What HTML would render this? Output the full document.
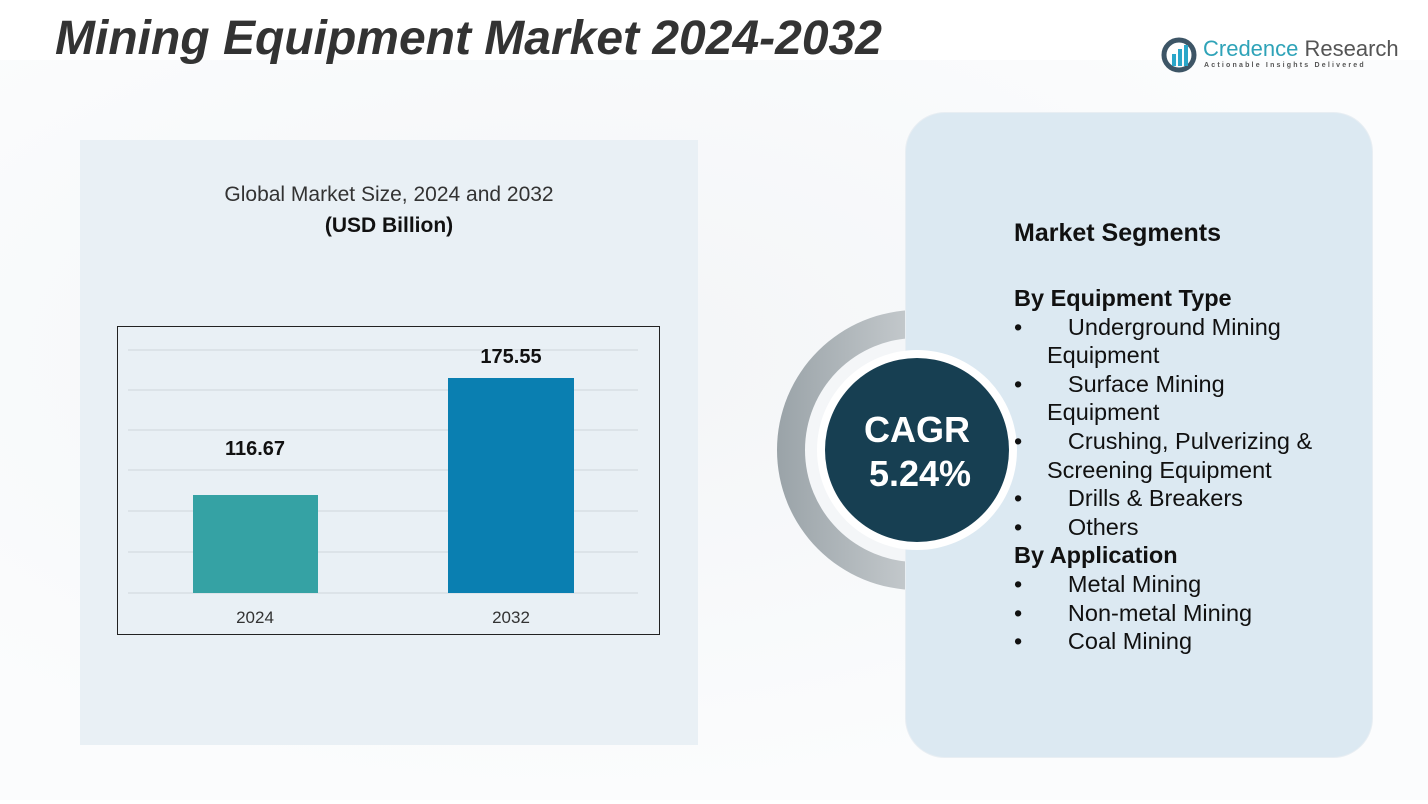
<!DOCTYPE html>
<html><head><style>
body{margin:0;width:1428px;height:804px;background:#fff;position:relative;overflow:hidden;font-family:"Liberation Sans",sans-serif}
.a{position:absolute}
.seg{font-size:23.5px;color:#111;line-height:28.6px}
.seg div.b{padding-left:33px;text-indent:-33px}
</style></head><body>
<div class="a" style="left:0;top:60px;width:1428px;height:740px;background:radial-gradient(ellipse at 40% 40%,#f3f5f7,#fbfcfd 70%)"></div>
<div class="a" style="left:80px;top:140px;width:618px;height:605px;background:#e9f0f5"></div>
<div class="a" style="left:55px;top:11px;font-size:48px;font-weight:bold;font-style:italic;color:#333">Mining Equipment Market 2024-2032</div>
<svg class="a" style="left:1160px;top:36px" width="40" height="38"><circle cx="19" cy="19" r="15" fill="none" stroke="#3d5566" stroke-width="5"/><rect x="12" y="18" width="4" height="12" fill="#2aa6c9"/><rect x="18" y="13" width="4" height="17" fill="#2aa6c9"/><rect x="24" y="9" width="4" height="21" fill="#2aa6c9"/></svg>
<div class="a" style="left:1203px;top:36px;font-size:22px;color:#2fa3b8">Credence <span style="color:#555">Research</span></div>
<div class="a" style="left:1204px;top:62px;font-size:7px;letter-spacing:2.2px;color:#555;font-weight:bold">Actionable Insights Delivered</div>
<div class="a" style="left:80px;top:183px;width:618px;text-align:center;font-size:21px;color:#333">Global Market Size, 2024 and 2032</div>
<div class="a" style="left:80px;top:214px;width:618px;text-align:center;font-size:21px;font-weight:bold;color:#111">(USD Billion)</div>
<div class="a" style="left:117px;top:326px;width:541px;height:307px;border:1px solid #222"></div>
<svg class="a" style="left:118px;top:327px" width="541" height="307">
<g stroke="#cfd6dc" stroke-width="1"><line x1="10" x2="520" y1="23" y2="23"/><line x1="10" x2="520" y1="63" y2="63"/><line x1="10" x2="520" y1="103" y2="103"/><line x1="10" x2="520" y1="143" y2="143"/><line x1="10" x2="520" y1="184" y2="184"/><line x1="10" x2="520" y1="225" y2="225"/><line x1="10" x2="520" y1="266" y2="266"/></g>
<rect x="75" y="168" width="125" height="98" fill="#35a2a4"/>
<rect x="330" y="51" width="126" height="215" fill="#0a7fb1"/>
<text x="137" y="128" text-anchor="middle" font-size="20" font-weight="bold" fill="#111">116.67</text>
<text x="393" y="36" text-anchor="middle" font-size="20" font-weight="bold" fill="#111">175.55</text>
<text x="137" y="296" text-anchor="middle" font-size="17" fill="#333">2024</text>
<text x="393" y="296" text-anchor="middle" font-size="17" fill="#333">2032</text>
</svg>
<svg class="a" style="left:760px;top:300px" width="300" height="300">
<defs><linearGradient id="g" x1="0" x2="1"><stop offset="0" stop-color="#9aa3a8"/><stop offset="1" stop-color="#f2f3f4"/></linearGradient></defs>
<circle cx="157" cy="150" r="140" fill="url(#g)"/>
<circle cx="157" cy="150" r="112" fill="#f4f6f8"/>
</svg>
<div class="a" style="left:905px;top:112px;width:466px;height:644px;border-radius:40px;background:#dce9f2;border:1px solid #e8eef3"></div>
<svg class="a" style="left:760px;top:300px" width="300" height="300">
<circle cx="157" cy="150" r="100" fill="#fff"/>
<circle cx="157" cy="150" r="92" fill="#173f52"/>
<text x="157" y="142" text-anchor="middle" font-size="36" font-weight="bold" fill="#fff">CAGR</text>
<text x="160" y="186" text-anchor="middle" font-size="36" font-weight="bold" fill="#fff">5.24%</text>
</svg>
<div class="a" style="left:1014px;top:219px;font-size:25px;font-weight:bold;color:#111">Market Segments</div>
<div class="a seg" style="left:1014px;top:284px;width:320px">
<div style="font-weight:bold">By Equipment Type</div>
<div class="b">•&nbsp;&nbsp;&nbsp;&nbsp;&nbsp;&nbsp;&nbsp;Underground Mining Equipment</div>
<div class="b">•&nbsp;&nbsp;&nbsp;&nbsp;&nbsp;&nbsp;&nbsp;Surface Mining Equipment</div>
<div class="b">•&nbsp;&nbsp;&nbsp;&nbsp;&nbsp;&nbsp;&nbsp;Crushing, Pulverizing &amp; Screening Equipment</div>
<div class="b">•&nbsp;&nbsp;&nbsp;&nbsp;&nbsp;&nbsp;&nbsp;Drills &amp; Breakers</div>
<div class="b">•&nbsp;&nbsp;&nbsp;&nbsp;&nbsp;&nbsp;&nbsp;Others</div>
<div style="font-weight:bold">By Application</div>
<div class="b">•&nbsp;&nbsp;&nbsp;&nbsp;&nbsp;&nbsp;&nbsp;Metal Mining</div>
<div class="b">•&nbsp;&nbsp;&nbsp;&nbsp;&nbsp;&nbsp;&nbsp;Non-metal Mining</div>
<div class="b">•&nbsp;&nbsp;&nbsp;&nbsp;&nbsp;&nbsp;&nbsp;Coal Mining</div>
</div>
</body></html>
